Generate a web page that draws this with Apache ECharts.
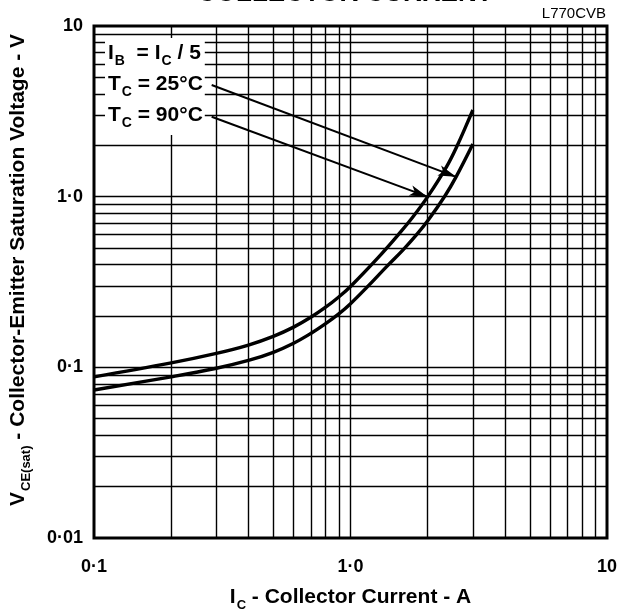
<!DOCTYPE html>
<html><head><meta charset="utf-8">
<script src="https://cdn.jsdelivr.net/npm/echarts@6/dist/echarts.min.js"></script>
<style>html,body{margin:0;padding:0;background:#fff}#c{width:620px;height:611px}</style>
</head><body><div id="c"></div>
<script>
// ---- data ----
const ic90 = [0.1, 0.2, 0.3, 0.4, 0.5, 0.6, 0.7, 0.8, 0.9, 1.0, 1.3, 1.56, 1.75, 2.0, 2.37, 2.63, 2.94, 3.0];
const v90  = [0.088, 0.1062, 0.1207, 0.135, 0.1518, 0.172, 0.1964, 0.225, 0.2583, 0.2977, 0.45, 0.615, 0.76, 1.0, 1.5, 2.05, 3.0, 3.22];
const ic25 = [0.1, 0.2, 0.3, 0.4, 0.5, 0.6, 0.7, 0.8, 0.9, 1.0, 1.16, 1.38, 1.61, 1.81, 2.0, 2.33, 2.58, 3.0];
const v25  = [0.0737, 0.088, 0.0988, 0.1097, 0.1225, 0.1385, 0.158, 0.1804, 0.2056, 0.236, 0.295, 0.388, 0.4915, 0.599, 0.722, 1.006, 1.307, 2.035];

const xTickValues = [0.1, 1, 10];
const xTickLabels = ['0·1', '1·0', '10'];
const yTickValues = [0.01, 0.1, 1, 10];
const yTickLabels = ['0·01', '0·1', '1·0', '10'];

const xGridValues = [0.2, 0.3, 0.4, 0.5, 0.6, 0.7, 0.8, 0.9, 1, 2, 3, 4, 5, 6, 7, 8, 9];
const yGridValues = [0.02, 0.03, 0.04, 0.05, 0.06, 0.07, 0.08, 0.09, 0.1,
                     0.2, 0.3, 0.4, 0.5, 0.6, 0.7, 0.8, 0.9, 1,
                     2, 3, 4, 5, 6, 7, 8, 9];

const arrow25 = [[0.2876, 4.51], [2.58, 1.307]];
const arrow90 = [[0.2876, 2.94], [1.995, 1.0]];

const titleText = 'COLLECTOR CURRENT';
const figureCode = 'L770CVB';

// ---- chart ----
const FONT = '"Liberation Sans", Arial, Helvetica, sans-serif';
const pair = (xs, ys) => xs.map((x, i) => [x, ys[i]]);
const fmt = (vals, labels) => v => {
  const i = vals.findIndex(t => Math.abs(Math.log10(t) - Math.log10(v)) < 1e-6);
  return i >= 0 ? labels[i] : '';
};
const richMain = (size, lh) => ({ fontFamily: FONT, fontWeight: 'bold', fontSize: size, lineHeight: lh, color: '#000' });
const richSub = (size, lh, pad) => ({ fontFamily: FONT, fontWeight: 'bold', fontSize: size, lineHeight: lh, color: '#000', padding: [pad, 0, 0, 1] });

const chart = echarts.init(document.getElementById('c'), null, { renderer: 'canvas' });
chart.setOption({
  animation: false,
  backgroundColor: '#fff',
  grid: { left: 94, right: 13, top: 26, bottom: 73, containLabel: false, outerBoundsMode: 'none',
          show: true, borderColor: '#000', borderWidth: 3, backgroundColor: 'transparent' },
  xAxis: {
    type: 'log', logBase: 10, min: 0.1, max: 10,
    axisLine: { show: false }, axisTick: { show: false }, splitLine: { show: false },
    axisLabel: { formatter: fmt(xTickValues, xTickLabels), fontFamily: FONT, fontWeight: 'bold', fontSize: 18, color: '#000', margin: 20 },
    name: '{m|I}{s|C}{m| - Collector Current - A}',
    nameLocation: 'middle', nameGap: 47,
    nameTextStyle: { rich: { m: richMain(21, 24), s: richSub(13, 24, 16) } }
  },
  yAxis: {
    type: 'log', logBase: 10, min: 0.01, max: 10,
    axisLine: { show: false }, axisTick: { show: false }, splitLine: { show: false },
    axisLabel: { formatter: fmt(yTickValues, yTickLabels), fontFamily: FONT, fontWeight: 'bold', fontSize: 18, color: '#000', margin: 11 },
    name: '{m|V}{s|CE(sat)}{m| - Collector-Emitter Saturation Voltage - V}',
    nameLocation: 'middle', nameGap: 64, nameRotate: 90,
    nameTextStyle: { padding: [0, 0, 0, 24], rich: { m: richMain(21, 24), s: richSub(13, 24, 16) } }
  },
  graphic: [
    { type: 'text', z: 100, left: 345 - 148, top: -19,
      style: { text: titleText, font: 'bold 26px ' + FONT, fill: '#000' } },
    { type: 'text', z: 100, right: 14, top: 6,
      style: { text: figureCode, font: '15px ' + FONT, fill: '#000' } },
    { type: 'text', z: 100, left: 105, top: 38,
      style: {
        text: '{m|I}{s|B}{m|  = I}{s|C}{m| / 5}\n{m|T}{s|C}{m| = 25°C}\n{m|T}{s|C}{m| = 90°C}',
        backgroundColor: '#fff', padding: [0, 2, 4, 3],
        rich: { m: richMain(21, 31), s: richSub(14, 31, 16) }
      } }
  ],
  series: [
    {
      type: 'line', data: [], z: 1, silent: true,
      markLine: {
        silent: true, symbol: 'none', label: { show: false }, z: 1,
        lineStyle: { color: '#000', width: 1.4, type: 'solid' },
        emphasis: { disabled: true },
        data: xGridValues.map(v => ({ xAxis: v })).concat(yGridValues.map(v => ({ yAxis: v })))
      }
    },
    {
      name: 'TC = 90°C', type: 'line', data: pair(ic90, v90), smooth: 0.4, showSymbol: false, z: 3,
      lineStyle: { color: '#000', width: 3.4 }
    },
    {
      name: 'TC = 25°C', type: 'line', data: pair(ic25, v25), smooth: 0.4, showSymbol: false, z: 3,
      lineStyle: { color: '#000', width: 3.4 },
      markLine: {
        silent: true, label: { show: false }, z: 4,
        lineStyle: { color: '#000', width: 2, type: 'solid' },
        emphasis: { disabled: true },
        data: [
          [{ coord: arrow25[0], symbol: 'none' }, { coord: arrow25[1], symbol: 'arrow', symbolSize: [8, 18] }],
          [{ coord: arrow90[0], symbol: 'none' }, { coord: arrow90[1], symbol: 'arrow', symbolSize: [8, 18] }]
        ]
      }
    }
  ]
});
</script></body></html>
